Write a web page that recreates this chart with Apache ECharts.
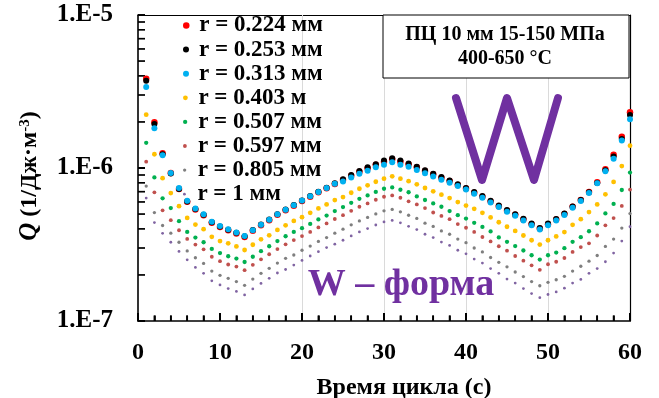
<!DOCTYPE html>
<html><head><meta charset="utf-8">
<script src="https://cdn.jsdelivr.net/npm/echarts@6/dist/echarts.min.js"></script>
<style>html,body{margin:0;padding:0;background:#fff}#c{width:659px;height:398px}</style>
</head><body><div id="c"></div>
<script>
// ---- data (Q values in units of 1e-7 1/(Дж·м^3)) ----
const UNIT = 1e-7;
const timeS = [1,2,3,4,5,6,7,8,9,10,11,12,13,14,15,16,17,18,19,20,21,22,23,24,25,26,27,28,29,30,
  31,32,33,34,35,36,37,38,39,40,41,42,43,44,45,46,47,48,49,50,51,52,53,54,55,56,57,58,59,60];
const q_r0224 = [38.3,19.9,12.5,9.27,7.28,6.01,5.36,4.92,4.39,4.12,3.92,3.73,3.54,3.89,4.23,4.56,4.94,5.30,5.66,6.08,
  6.48,6.93,7.36,7.86,8.34,8.90,9.46,9.95,10.5,11.0,11.4,11.0,10.6,10.1,9.56,9.09,8.64,8.22,7.74,7.34,
  6.89,6.48,6.05,5.63,5.26,4.94,4.61,4.29,4.02,4.29,4.61,5.00,5.58,6.17,6.96,8.06,9.81,12.2,16.0,23.1];
const q_r0253 = [37.2,19.4,12.3,9.2,7.3,6.05,5.4,4.95,4.42,4.15,3.95,3.77,3.58,3.93,4.27,4.6,4.99,5.36,5.72,6.14,
  6.55,7.0,7.44,7.94,8.43,9.0,9.57,10.1,10.6,11.2,11.6,11.2,10.7,10.2,9.66,9.18,8.73,8.3,7.82,7.41,
  6.96,6.55,6.11,5.69,5.31,4.99,4.66,4.33,4.06,4.33,4.65,5.04,5.6,6.17,6.93,7.98,9.65,11.9,15.5,22.2];
const q_r0313 = [33.9,18.2,12.1,9.27,7.39,6.10,5.44,4.99,4.46,4.18,3.98,3.79,3.59,3.92,4.26,4.59,4.98,5.34,5.70,6.13,
  6.53,6.98,7.41,7.90,8.15,8.66,9.17,9.61,10.1,10.5,10.9,10.5,10.2,9.72,9.23,8.8,8.39,8.0,7.62,7.23,
  6.79,6.38,5.96,5.55,5.18,4.87,4.54,4.23,3.96,4.23,4.54,4.93,5.5,6.08,6.86,7.94,9.52,11.5,15.1,20.8];
const q_r0403 = [22.3,12.3,8.58,6.86,5.63,4.72,4.27,3.98,3.55,3.33,3.22,3.07,2.91,3.15,3.42,3.63,3.94,4.22,4.51,4.77,
  5.09,5.44,5.78,6.17,6.46,6.89,7.32,7.70,8.13,8.51,8.82,8.51,8.20,7.82,7.40,7.04,6.69,6.36,5.99,5.68,
  5.41,5.09,4.75,4.42,4.13,3.88,3.62,3.37,3.16,3.37,3.57,3.81,4.25,4.63,5.15,5.78,6.73,8.11,10.3,14.0];
const q_r0507 = [14.6,8.68,6.34,5.47,4.49,3.82,3.51,3.27,2.96,2.78,2.65,2.56,2.43,2.63,2.86,3.08,3.33,3.58,3.82,4.04,
  4.31,4.61,4.89,5.23,5.55,5.92,6.29,6.62,6.98,7.32,7.47,7.21,6.94,6.52,6.18,5.87,5.58,5.23,4.92,4.67,
  4.38,4.12,3.85,3.52,3.29,3.09,2.89,2.69,2.52,2.69,2.80,2.99,3.29,3.53,3.86,4.34,5.05,5.82,7.18,9.33];
const q_r0597 = [11.0,6.93,5.29,4.56,3.92,3.44,3.16,2.94,2.63,2.46,2.34,2.27,2.15,2.33,2.53,2.73,2.95,3.17,3.38,3.59,
  3.82,4.09,4.34,4.64,4.92,5.25,5.58,5.87,6.20,6.49,6.62,6.39,6.06,5.78,5.47,5.12,4.86,4.63,4.30,4.07,
  3.82,3.54,3.31,3.08,2.88,2.66,2.48,2.31,2.16,2.35,2.44,2.58,2.83,3.04,3.22,3.62,4.22,4.71,5.65,7.23];
const q_r0805 = [7.62,5.11,4.21,3.75,3.27,2.87,2.59,2.38,2.12,1.99,1.90,1.81,1.71,1.88,2.05,2.21,2.39,2.57,2.70,2.90,
  3.09,3.31,3.51,3.75,3.98,4.25,4.51,4.75,5.01,5.25,5.36,5.17,4.91,4.68,4.36,4.15,3.88,3.69,3.43,3.25,
  3.00,2.83,2.60,2.42,2.26,2.09,1.95,1.81,1.70,1.79,1.86,1.96,2.12,2.28,2.46,2.68,3.07,3.43,4.05,5.04];
const q_r1 = [6.36,4.40,3.74,3.27,2.85,2.51,2.24,2.05,1.83,1.72,1.63,1.56,1.48,1.62,1.76,1.90,2.06,2.17,2.32,2.49,
  2.66,2.84,3.02,3.18,3.37,3.60,3.82,4.02,4.24,4.44,4.54,4.38,4.16,3.96,3.69,3.51,3.28,3.12,2.90,2.75,
  2.54,2.39,2.20,2.05,1.88,1.77,1.63,1.51,1.42,1.49,1.55,1.64,1.77,1.87,2.05,2.20,2.44,2.78,3.33,4.13];

const seriesNames = ['r = 0.224 мм','r = 0.253 мм','r = 0.313 мм','r = 0.403 м','r = 0.507 мм','r = 0.597 мм','r = 0.805 мм','r = 1 мм'];
const seriesValues = [q_r0224,q_r0253,q_r0313,q_r0403,q_r0507,q_r0597,q_r0805,q_r1];
const xTickLabels = ['0','10','20','30','40','50','60'];
const yTickValues = [1e-7,1e-6,1e-5];
const yTickLabels = ['1.E-7','1.E-6','1.E-5'];
const xGridValues = [20,30,40,50];
const yGridValues = [1e-6];
const xTitle = 'Время цикла (с)';
const yTitle = '{q|Q} (1/Дж·м{s|-3})';
const boxLine1 = 'ПЦ 10 мм 15-150 МПа';
const boxLine2 = '400-650 °С';
const shapeLabel = 'W – форма';

// ---- styles ----
const F = 'Liberation Serif';
const colors = ['#FF0000','#000000','#00B0F0','#FFC000','#00B050','#C0504D','#7F7F7F','#8064A2'];
const sizes = [6.5,6,6,4.8,4.3,3.8,3.3,2.8];
const purple = '#7030A0';
const Y_MIN = 1e-7, Y_MAX = 1e-5, X_MIN = 0, X_MAX = 60;

// tick mark positions (inside ticks): x every 2 s (major every 10), y at 1..10 x 10^n
const xTickMarks = [];
for (let v=X_MIN; v<=X_MAX; v+=2) xTickMarks.push([v, Y_MIN, v%10===0 ? 1 : 0]);
const yTickMarks = [];
for (const dec of [1e-7,1e-6]) for (let k=1;k<=10;k++) yTickMarks.push([X_MIN, k*dec, k===1||k===10 ? 1 : 0]);

function yLabel(v){
  for (let i=0;i<yTickValues.length;i++) if (Math.abs(Math.log10(v)-Math.log10(yTickValues[i]))<1e-6) return yTickLabels[i];
  return '';
}

const series = seriesNames.map((n,i)=>({
  name:n, type:'scatter', symbol:'circle', symbolSize:sizes[i],
  itemStyle:{color:colors[i], opacity:1},
  data: timeS.map((t,j)=>[t, seriesValues[i][j]*UNIT]),
  silent:true, animation:false, z:3
}));
series[0].markLine = {
  silent:true, symbol:'none', z:1, label:{show:false}, animation:false,
  lineStyle:{color:'#dadada', width:1, type:'solid'},
  data: xGridValues.map(v=>({xAxis:v})).concat(yGridValues.map(v=>({yAxis:v})))
};
// inside tick marks drawn through the axes' scales
series.push({
  type:'custom', clip:false, data:xTickMarks,
  renderItem:(params, api)=>{
    const p = api.coord([api.value(0), api.value(1)]);
    const major = api.value(2) === 1;
    return {type:'line', shape:{x1:p[0], y1:p[1], x2:p[0], y2:p[1]-(major?8:5.5)},
      style:{stroke:'#000', lineWidth: major?2:1.7}};
  }
});
series.push({
  type:'custom', clip:false, data:yTickMarks,
  renderItem:(params, api)=>{
    const p = api.coord([api.value(0), api.value(1)]);
    return {type:'line', shape:{x1:p[0], y1:p[1], x2:p[0]+7, y2:p[1]},
      style:{stroke:'#000', lineWidth:1.7}};
  }
});

const legends = seriesNames.map((n,i)=>({
  data:[{name:n, icon:'circle'}], orient:'vertical', left:183, top:14+24.1*i,
  itemWidth:16, itemHeight:sizes[i], selectedMode:false, padding:0, itemGap:0,
  textStyle:{fontFamily:F, fontWeight:'bold', fontSize:23, color:'#000', lineHeight:22}
}));

const frameAxis = {axisLine:{show:true, onZero:false, lineStyle:{color:'#000', width:1.2}}, axisTick:{show:false}, axisLabel:{show:false}, splitLine:{show:false}, silent:true};

const chart = echarts.init(document.getElementById('c'), null, {renderer:'canvas'});
chart.setOption({
  animation:false,
  backgroundColor:'#fff',
  grid:{left:138, right:29, top:15, bottom:77, show:false, containLabel:false, outerBoundsMode:'none'},
  legend: legends,
  xAxis:[{
    type:'value', min:X_MIN, max:X_MAX, interval:10, position:'bottom',
    axisLine:{show:true, onZero:false, lineStyle:{color:'#000', width:1.6}},
    axisTick:{show:true, inside:true, length:8, lineStyle:{color:'#000', width:2}},
    minorTick:{show:true, splitNumber:5, length:5.5, lineStyle:{color:'#000', width:1.7}},
    splitLine:{show:false},
    axisLabel:{show:true, margin:20, fontFamily:F, fontWeight:'bold', fontSize:24, color:'#000',
      formatter:(v)=>xTickLabels[Math.round(v/10)]},
    name:xTitle, nameLocation:'middle', nameGap:55,
    nameTextStyle:{fontFamily:F, fontWeight:'bold', fontSize:24, color:'#000', padding:[0,0,0,40]}
  }, Object.assign({type:'value', min:X_MIN, max:X_MAX, position:'top'}, frameAxis)],
  yAxis:[{
    type:'log', logBase:10, min:Y_MIN, max:Y_MAX, position:'left',
    axisLine:{show:true, onZero:false, lineStyle:{color:'#000', width:1.6}},
    axisTick:{show:true, inside:true, length:7, lineStyle:{color:'#000', width:1.7}},
    splitLine:{show:false},
    axisLabel:{show:true, margin:25, fontFamily:F, fontWeight:'bold', fontSize:25, color:'#000', formatter:yLabel}
  }, Object.assign({type:'value', min:0, max:1, position:'right'}, frameAxis)],
  series: series,
  graphic:[
    {type:'text', x:30, y:176, rotation:Math.PI/2, z:50,
     style:{text:yTitle, fontFamily:F, fontWeight:'bold', fontSize:24, fill:'#000', align:'center', verticalAlign:'middle',
       rich:{q:{fontFamily:F, fontStyle:'italic', fontWeight:'bold', fontSize:25, fill:'#000'},
             s:{fontFamily:F, fontWeight:'bold', fontSize:15, fill:'#000', verticalAlign:'top'}}}},
    {type:'rect', x:383, y:15, z:50, shape:{width:246, height:63}, style:{fill:'#fff', stroke:'#000', lineWidth:1}},
    {type:'text', x:505, y:35, z:51, style:{text:boxLine1, fontFamily:F, fontWeight:'bold', fontSize:20, fill:'#000', align:'center', verticalAlign:'middle'}},
    {type:'text', x:505, y:59, z:51, style:{text:boxLine2, fontFamily:F, fontWeight:'bold', fontSize:20, fill:'#000', align:'center', verticalAlign:'middle'}},
    {type:'polyline', z:50, shape:{points:[[456,98],[482,180],[507,98],[534,180],[558,98]]},
     style:{stroke:purple, lineWidth:8, lineJoin:'round', lineCap:'round', fill:null}},
    {type:'text', x:401, y:285, z:51, style:{text:shapeLabel, fontFamily:F, fontWeight:'bold', fontSize:38, fill:purple, align:'center', verticalAlign:'middle'}}
  ]
});
</script></body></html>
